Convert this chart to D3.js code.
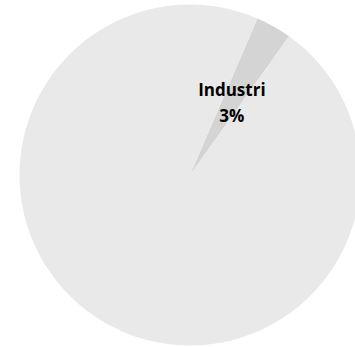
<!DOCTYPE html>
<html>
<head>
<meta charset="utf-8">
<script src="https://cdn.jsdelivr.net/npm/d3@7/dist/d3.min.js"></script>
<style>
  html, body { margin: 0; padding: 0; background: #ffffff; }
  svg { display: block; }
</style>
</head>
<body>
<svg id="chart" width="355" height="347"></svg>
<script>
// Share by sector (percent)
const categories = ["Industri", "Øvrig"];
const values = [3.4, 96.6];
const labelled = ["Industri"];

const width = 355, height = 347;
const cx = 190, cy = 175, radius = 170.5;

const color = d3.scaleOrdinal()
  .domain(categories)
  .range(["#d4d4d4", "#e9e9e9"]);

const data = categories.map((c, i) => ({ category: c, value: values[i] }));
const total = d3.sum(values);

const start = 23.3 * Math.PI / 180;
const pie = d3.pie()
  .sort(null)
  .value(d => d.value)
  .startAngle(start)
  .endAngle(start + 2 * Math.PI);

const arc = d3.arc().innerRadius(0).outerRadius(radius);
const labelArc = d3.arc().innerRadius(radius * 0.5).outerRadius(radius * 0.5);

const svg = d3.select("#chart");
const g = svg.append("g").attr("transform", `translate(${cx},${cy})`);

const arcs = pie(data);

g.selectAll("path.slice")
  .data(arcs)
  .join("path")
  .attr("class", "slice")
  .attr("d", arc)
  .attr("fill", d => color(d.data.category));

const fmt = d3.format(".0%");
const labels = g.selectAll("text.label")
  .data(arcs.filter(d => labelled.includes(d.data.category)))
  .join("text")
  .attr("class", "label")
  .attr("text-anchor", "middle")
  .attr("font-family", "'Open Sans', 'Noto Sans', sans-serif")
  .attr("font-weight", "bold")
  .attr("font-size", 17)
  .attr("fill", "#000000")
  .attr("transform", d => {
    const [x, y] = labelArc.centroid(d);
    return `translate(${x},${y})`;
  });

labels.append("tspan")
  .attr("x", 0)
  .attr("y", -5)
  .text(d => d.data.category);

labels.append("tspan")
  .attr("x", 0)
  .attr("y", 21)
  .text(d => fmt(d.data.value / total));
</script>
</body>
</html>
